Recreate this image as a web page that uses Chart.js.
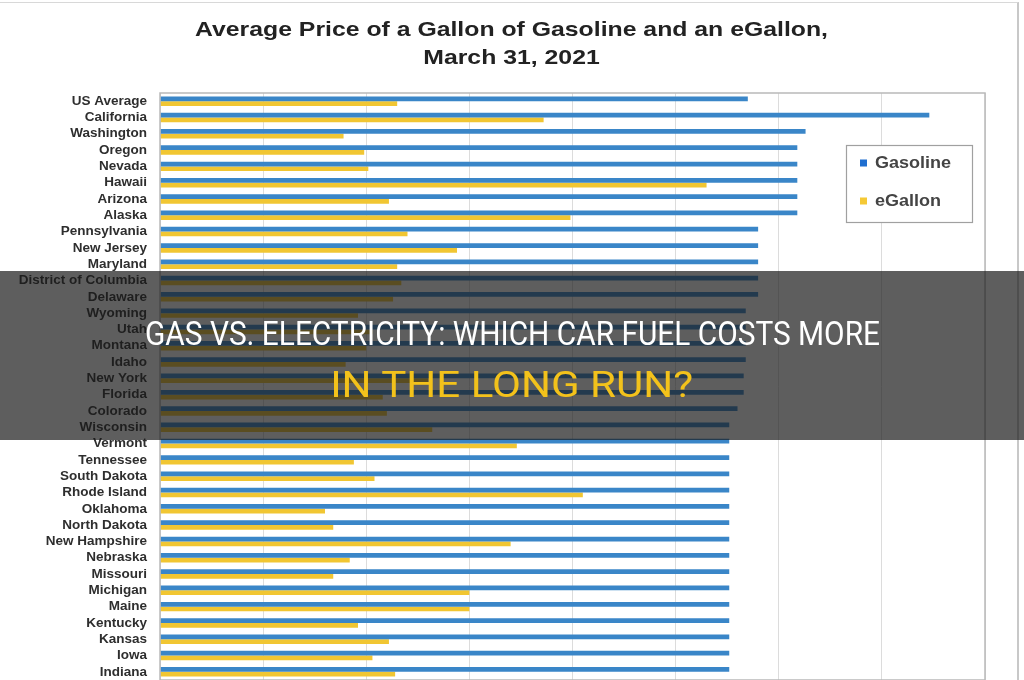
<!DOCTYPE html>
<html>
<head>
<meta charset="utf-8">
<script src="https://cdn.jsdelivr.net/npm/chart.js@4.4.1/dist/chart.umd.min.js"></script>
<style>
  html, body { margin:0; padding:0; background:#fff; width:1024px; height:680px; overflow:hidden; }
  #wrap { position:absolute; left:0; top:0; width:1024px; height:705px; }
  #frame { position:absolute; left:0; top:2px; width:1017px; height:700px; border-top:1px solid #d8d8d8; border-right:2px solid #c8c8c8; pointer-events:none; }
  #banner { position:absolute; left:0; top:271px; width:1024px; height:169px; background:rgba(25,25,25,0.7); }
  .bl { position:absolute; left:0; width:1024px; text-align:center; white-space:nowrap; font-family:"Roboto","Liberation Sans",sans-serif; font-weight:400; }
  .bl span { display:inline-block; transform-origin:center center; }
  #l1 { top:44px; color:#ffffff; font-size:33px; line-height:38px; }
  #l2 { top:93px; color:#f3c21b; font-size:37px; line-height:42px; }
</style>
</head>
<body>
<div id="wrap"><canvas id="c" width="1024" height="705"></canvas></div>
<div id="frame"></div>
<div id="banner">
  <div class="bl" id="l1"><span id="t1">GAS VS. ELECTRICITY: WHICH CAR FUEL COSTS MORE</span></div>
  <div class="bl" id="l2"><span id="t2">IN THE LONG RUN?</span></div>
</div>
<script>
const titleLines = ["Average Price of a Gallon of Gasoline and an eGallon,", "March 31, 2021"];
const states = ["US Average","California","Washington","Oregon","Nevada","Hawaii","Arizona","Alaska",
  "Pennsylvania","New Jersey","Maryland","District of Columbia","Delaware","Wyoming","Utah","Montana",
  "Idaho","New York","Florida","Colorado","Wisconsin","Vermont","Tennessee","South Dakota",
  "Rhode Island","Oklahoma","North Dakota","New Hampshire","Nebraska","Missouri","Michigan","Maine",
  "Kentucky","Kansas","Iowa","Indiana"];
const gasoline = [2.85,3.73,3.13,3.09,3.09,3.09,3.09,3.09,
  2.90,2.90,2.90,2.90,2.90,2.84,2.84,2.84,
  2.84,2.83,2.83,2.80,2.76,2.76,2.76,2.76,
  2.76,2.76,2.76,2.76,2.76,2.76,2.76,2.76,
  2.76,2.76,2.76,2.76];
const egallon = [1.15,1.86,0.89,0.99,1.01,2.65,1.11,1.99,
  1.20,1.44,1.15,1.17,1.13,0.96,1.03,1.00,
  0.90,1.30,1.08,1.10,1.32,1.73,0.94,1.04,
  2.05,0.80,0.84,1.70,0.92,0.84,1.50,1.50,
  0.96,1.11,1.03,1.14];
const xTicks = [0,0.5,1,1.5,2,2.5,3,3.5,4];
const seriesNames = ["Gasoline","eGallon"];

const BLUE = "#3a86c8", YELLOW = "#f1c632";

const framePlugin = {
  id: 'frameBox',
  afterDatasetsDraw(chart) {
    const {ctx, chartArea:a} = chart;
    ctx.save();
    ctx.strokeStyle = '#b9b9b9';
    ctx.lineWidth = 1.5;
    ctx.strokeRect(a.left, a.top, a.right - a.left, a.bottom - a.top);
    ctx.restore();
  },
  afterDraw(chart) {
    const {ctx} = chart;
    // title (horizontally widened, as in the reference)
    ctx.save();
    ctx.fillStyle = '#222';
    ctx.font = 'bold 21px "Liberation Sans", Arial, sans-serif';
    ctx.textBaseline = 'middle';
    ctx.textAlign = 'center';
    const w0 = ctx.measureText(titleLines[0]).width;
    const sx = 633 / w0;
    const ys = [30, 58];
    titleLines.forEach((t, i) => {
      ctx.save();
      ctx.translate(511.5, ys[i]);
      ctx.scale(sx, 1);
      ctx.fillText(t, 0, 0);
      ctx.restore();
    });
    ctx.restore();

    // legend
    const x = 846, y = 145, w = 126, h = 77;
    ctx.save();
    ctx.fillStyle = '#fff';
    ctx.fillRect(x, y, w, h);
    ctx.strokeStyle = '#a0a0a0';
    ctx.lineWidth = 1.2;
    ctx.strokeRect(x + 0.5, y + 0.5, w, h);
    const rows = [163, 201];
    chart.data.datasets.forEach((ds, i) => {
      ctx.fillStyle = i === 0 ? '#1f6fd0' : '#f5c935';
      ctx.fillRect(x + 14, rows[i] - 3.5, 7, 7);
      ctx.fillStyle = '#444';
      ctx.font = 'bold 17px "Liberation Sans", Arial, sans-serif';
      ctx.textBaseline = 'middle';
      ctx.save();
      ctx.translate(x + 29, rows[i]);
      ctx.scale(1.06, 1);
      ctx.fillText(ds.label, 0, 0);
      ctx.restore();
    });
    ctx.restore();
  }
};

new Chart(document.getElementById('c'), {
  type: 'bar',
  data: {
    labels: states,
    datasets: [
      { label: seriesNames[0], data: gasoline, backgroundColor: BLUE, categoryPercentage: 0.58, barPercentage: 1.0 },
      { label: seriesNames[1], data: egallon, backgroundColor: YELLOW, categoryPercentage: 0.58, barPercentage: 1.0 }
    ]
  },
  options: {
    indexAxis: 'y',
    responsive: false,
    animation: false,
    layout: { padding: { left: 0, right: 39, top: 93, bottom: 0 } },
    plugins: {
      legend: { display: false },
      tooltip: { enabled: false },
      title: { display: false }
    },
    scales: {
      x: {
        min: 0, max: 4,
        afterBuildTicks(s) { s.ticks = xTicks.map(v => ({ value: v })); },
        afterFit(s) { s.height = 25; },
        grid: { color: '#dcdcdc', lineWidth: 1, drawTicks: false },
        border: { display: false },
        ticks: { color: '#555', font: { size: 11 }, callback: v => '$' + Number(v).toFixed(2) }
      },
      y: {
        afterFit(s) { s.width = 160; },
        grid: { display: false, drawTicks: false },
        border: { display: false },
        ticks: {
          autoSkip: false,
          padding: 13,
          color: '#2e2e2e',
          font: { family: '"Liberation Sans", Arial, sans-serif', size: 13.5, weight: 'bold' }
        }
      }
    }
  },
  plugins: [framePlugin]
});

function fit(id, target) {
  const el = document.getElementById(id);
  const w = el.getBoundingClientRect().width;
  el.style.transform = 'scaleX(' + (target / w) + ')';
}
fit('t1', 735);
fit('t2', 363);
</script>
</body>
</html>
